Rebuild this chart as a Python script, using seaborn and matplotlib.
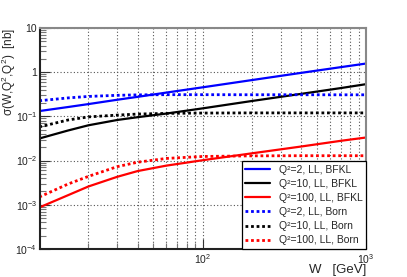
import numpy as np
import pandas as pd
import matplotlib
matplotlib.use("Agg")
import matplotlib.pyplot as plt
import matplotlib.ticker as mticker
import seaborn as sns

W = [10, 15, 20, 30, 40, 60, 100, 200, 400, 700, 1000]

bfkl_q2 = [0.132, 0.163, 0.19, 0.238, 0.277, 0.346, 0.455, 0.663, 0.965, 1.30, 1.57]
bfkl_q10 = [0.0316, 0.048, 0.063, 0.083, 0.096, 0.116, 0.152, 0.223, 0.323, 0.437, 0.536]
bfkl_q100 = [8.7e-4, 1.65e-3, 2.6e-3, 4.3e-3, 5.8e-3, 7.7e-3, 0.0102, 0.0146, 0.0208, 0.0280, 0.0333]
born_q2 = [0.226, 0.262, 0.283, 0.300, 0.307, 0.310, 0.310, 0.309, 0.309, 0.308, 0.308]
born_q10 = [0.0578, 0.083, 0.0975, 0.107, 0.113, 0.117, 0.119, 0.120, 0.120, 0.120, 0.120]
born_q100 = [1.5e-3, 2.95e-3, 4.4e-3, 7.3e-3, 9.2e-3, 0.0112, 0.0124, 0.0128, 0.0129, 0.0129, 0.0129]

labels = ["Q²=2, LL, BFKL", "Q²=10, LL, BFKL", "Q²=100, LL, BFKL",
          "Q²=2, LL, Born", "Q²=10, LL, Born", "Q²=100, LL, Born"]
series = [bfkl_q2, bfkl_q10, bfkl_q100, born_q2, born_q10, born_q100]
colors = ["#0000ff", "#000000", "#ff0000", "#0000ff", "#000000", "#ff0000"]
styles = ["-", "-", "-", (0, (1, 1)), (0, (1, 1)), (0, (1, 1))]

sns.set_style("ticks")
plt.rcParams['font.family'] = ['Liberation Sans', 'DejaVu Sans']
plt.rcParams['mathtext.fontset'] = 'custom'
plt.rcParams['mathtext.rm'] = 'Liberation Sans'
plt.rcParams['mathtext.it'] = 'Liberation Sans:italic'

fig = plt.figure(figsize=(4.07, 2.77), dpi=100)
ax = fig.add_axes([40/407, 28/277, 326/407, 221/277])

for lab, vals, c, ls in zip(labels, series, colors, styles):
    df = pd.DataFrame({"W": W, "sigma": vals})
    sns.lineplot(data=df, x="W", y="sigma", ax=ax, color=c, linestyle=ls,
                 linewidth=1.6 if ls == "-" else 2.0, label=lab)

ax.set_xscale("log")
ax.set_yscale("log")
ax.set_xlim(10.1, 1000)
ax.set_ylim(1e-4, 10)

ax.yaxis.set_major_locator(mticker.FixedLocator([1e-4, 1e-3, 1e-2, 1e-1, 1, 10]))
ax.yaxis.set_major_formatter(mticker.FixedFormatter(
    ["$10^{-4}$", "$10^{-3}$", "$10^{-2}$", "$10^{-1}$", "1", "10"]))
ax.yaxis.set_minor_locator(mticker.LogLocator(base=10, subs=np.arange(2, 10), numticks=20))
ax.xaxis.set_major_locator(mticker.FixedLocator([100, 1000]))
ax.xaxis.set_major_formatter(mticker.FixedFormatter(["$10^{2}$", "$10^{3}$"]))
ax.xaxis.set_minor_locator(mticker.LogLocator(base=10, subs=np.arange(2, 10), numticks=20))
ax.xaxis.set_minor_formatter(mticker.NullFormatter())

ax.tick_params(axis="both", which="major", direction="in", length=7, width=0.8,
               labelsize=7.5, colors="#333333", labelcolor="#222222", pad=2)
ax.tick_params(axis="both", which="minor", direction="in", length=4, width=0.8, colors="#777777")

ax.grid(True, axis="y", which="major", linestyle=(0, (1, 2)), color="#555555", linewidth=0.8)
ax.grid(True, axis="x", which="both", linestyle=(0, (1, 2)), color="#555555", linewidth=0.8)
ax.set_axisbelow(True)

for sp in ax.spines.values():
    sp.set_color("#888888")
    sp.set_linewidth(1.5)
ax.spines["left"].set_color("#222222")
ax.spines["bottom"].set_color("#222222")

ax.set_xlabel("W   [GeV]", fontsize=9.5, ha="right", va="bottom")
ax.xaxis.set_label_coords(1.0, -0.122)
ax.set_ylabel("σ(W,Q$^2$,Q$^2$)  [nb]", fontsize=8.5, ha="right", va="center")
ax.yaxis.set_label_coords(-0.095, 1.0)

leg = ax.legend(loc="lower right", fontsize=7.5, frameon=True, fancybox=False,
                edgecolor="black", borderaxespad=0, handlelength=2.4,
                labelspacing=0.4, borderpad=0.35, handletextpad=0.8)
leg.get_frame().set_linewidth(0.9)
leg.get_frame().set_alpha(1)

fig.savefig("out.png", dpi=100)
